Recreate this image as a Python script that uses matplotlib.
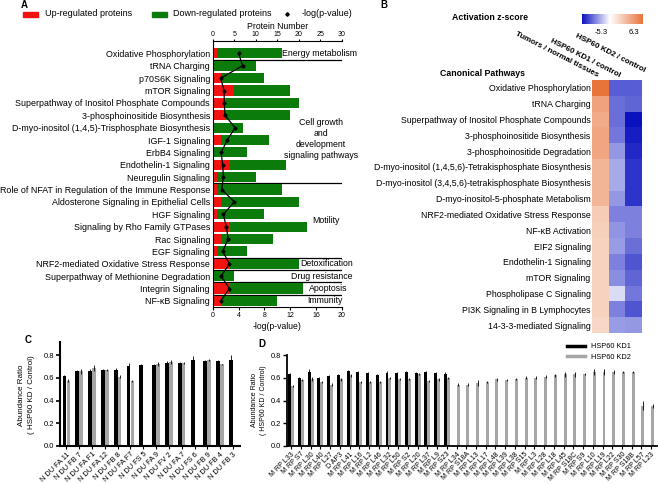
import matplotlib
matplotlib.use('Agg')
import matplotlib.pyplot as plt
import numpy as np
from matplotlib.colors import LinearSegmentedColormap, Normalize
from matplotlib.patches import Rectangle
from matplotlib.lines import Line2D

plt.rcParams['font.family'] = ['Liberation Sans', 'DejaVu Sans']
plt.rcParams['axes.linewidth'] = 0.8

W, H = 658, 484

# ---------------- Panel A data ----------------
pathways_a = [
    "Oxidative Phosphorylation", "tRNA Charging", "p70S6K Signaling", "mTOR Signaling",
    "Superpathway of Inositol Phosphate Compounds", "3-phosphoinositide Biosynthesis",
    "D-myo-inositol (1,4,5)-Trisphosphate Biosynthesis", "IGF-1 Signaling", "ErbB4 Signaling",
    "Endothelin-1 Signaling", "Neuregulin Signaling",
    "Role of NFAT in Regulation of the Immune Response", "Aldosterone Signaling in Epithelial Cells",
    "HGF Signaling", "Signaling by Rho Family GTPases", "Rac Signaling", "EGF Signaling",
    "NRF2-mediated Oxidative Stress Response", "Superpathway of Methionine Degradation",
    "Integrin Signaling", "NF-κB Signaling",
]
up_a = [1, 0, 2, 5, 3, 3, 0, 2, 0, 4, 1, 1, 2, 1, 4, 2, 1, 4, 0, 4, 2]
total_a = [16, 10, 12, 18, 20, 18, 7, 13, 8, 17, 10, 16, 20, 12, 22, 14, 8, 20, 5, 21, 15]
logp_a = [4.0, 4.65, 1.24, 1.76, 1.8, 1.9, 3.46, 2.27, 1.3, 1.55, 1.65, 1.4, 3.36, 1.65,
          2.1, 2.4, 1.55, 2.6, 1.3, 2.6, 1.24]
separators_a = [0.5, 10.5, 16.5, 17.5, 18.5, 19.5]
groups_a = [
    ("Energy metabolism", 16.1, 0, 'left'),
    ("Cell growth\nand\ndevelopment\nsignaling pathways", 25.1, 6.9, 'center'),
    ("Motility", 26.3, 13.5, 'center'),
    ("Detoxification", 20.3, 17, 'left'),
    ("Drug resistance", 18.2, 18, 'left'),
    ("Apoptosis", 22.4, 19, 'left'),
    ("Immunity", 21.9, 20, 'left'),
]

# ---------------- Panel B data ----------------
pathways_b = [
    "Oxidative Phosphorylation", "tRNA Charging", "Superpathway of Inositol Phosphate Compounds",
    "3-phosphoinositide Biosynthesis", "3-phosphoinositide Degradation",
    "D-myo-inositol (1,4,5,6)-Tetrakisphosphate Biosynthesis",
    "D-myo-inositol (3,4,5,6)-tetrakisphosphate Biosynthesis",
    "D-myo-inositol-5-phosphate Metabolism", "NRF2-mediated Oxidative Stress Response",
    "NF-κB Activation", "EIF2 Signaling", "Endothelin-1 Signaling", "mTOR Signaling",
    "Phospholipase C Signaling", "PI3K Signaling in B Lymphocytes", "14-3-3-mediated Signaling",
]
conditions_b = ["Tumors / normal tissues", "HSP60 KD1 / control", "HSP60 KD2 / control"]
z_tumor = [6.3, 4.2, 3.8, 4.0, 4.0, 3.3, 3.3, 3.3, 2.3, 2.1, 2.0, 2.0, 2.0, 2.0, 2.0, 1.8]
z_kd1 = [-3.6, -3.2, -3.2, -3.0, -2.3, -1.9, -1.9, -2.3, -2.8, -2.4, -2.2, -2.8, -2.5, -0.8, -2.8, -2.2]
z_kd2 = [-3.6, -3.4, -5.3, -5.0, -4.8, -4.5, -4.5, -4.5, -2.8, -2.8, -3.2, -3.8, -3.4, -3.0, -3.8, -2.3]
z_min, z_max = -5.3, 6.3

# ---------------- Panel C data ----------------
labels_c = ["N DU FA 11", "N DU FB 7", "N DU FA F1", "N DU FA 12", "N DU FB 8", "N DU FA F7",
            "N DU FS 5", "N DU FA 9", "N DU FV 2", "N DU FA 7", "N DU FS 6", "N DU FB 9",
            "N DU FB 4", "N DU FB 3"]
kd1_c = [0.614, 0.657, 0.663, 0.666, 0.666, 0.70, 0.709, 0.71, 0.734, 0.734, 0.757, 0.75, 0.75, 0.757]
kd1_c_err = [0.01, 0.01, 0.01, 0.01, 0.02, 0.03, 0.01, 0.01, 0.01, 0.005, 0.03, 0.01, 0.01, 0.04]
kd2_c = [0.575, 0.657, 0.686, 0.67, 0.61, 0.57, np.nan, 0.72, 0.74, 0.73, np.nan, 0.757, 0.72, np.nan]
kd2_c_err = [0.01, 0.02, 0.03, 0.01, 0.015, 0.01, np.nan, 0.02, 0.015, 0.005, np.nan, 0.01, 0.005, np.nan]

# ---------------- Panel D data ----------------
labels_d = ["M RP L33", "M RP S7", "M RP L30", "M RP L40", "M RP L27", "D AP3", "M RP L41",
            "M RP L16", "M RP L2", "M RP L46", "M RP L32", "M RP L50", "M RP S2", "M RP L20",
            "M RP L37", "M RP L9", "M RP S23", "M RP L34", "M RP S18A", "M RP L13", "M RP L17",
            "M RP L48", "M RP L39", "M RP L38", "M RP S15", "M RP L3", "M RP L28", "M RP L18",
            "M RP L45", "M RP S18C", "M RP S9", "M RP L10", "M RP L19", "M RP L22", "M RP S30",
            "M RP S18B", "M RP L57", "M RP L23"]
kd1_d = [0.63, 0.60, 0.65, 0.60, 0.615, 0.62, 0.66, 0.65, 0.64, 0.625, 0.645, 0.64, 0.65,
         0.64, 0.65, 0.64, 0.63] + [np.nan] * 21
kd1_d_err = [0.01, 0.01, 0.03, 0.01, 0.01, 0.01, 0.01, 0.01, 0.01, 0.01, 0.01, 0.01, 0.01,
             0.01, 0.01, 0.01, 0.02] + [np.nan] * 21
kd2_d = [0.526, 0.58, 0.59, 0.56, 0.54, 0.585, 0.62, 0.56, 0.56, 0.565, 0.595, 0.59, 0.59,
         0.635, 0.57, 0.585, 0.60, 0.54, 0.54, 0.555, 0.56, 0.585, 0.58, 0.59, 0.60, 0.60,
         0.61, 0.62, 0.63, 0.63, 0.63, 0.65, 0.65, 0.65, 0.65, 0.65, 0.355, 0.35]
kd2_d_err = [0.01, 0.01, 0.02, 0.01, 0.01, 0.01, 0.015, 0.01, 0.01, 0.01, 0.01, 0.01, 0.01,
             0.01, 0.01, 0.01, 0.01, 0.015, 0.01, 0.025, 0.01, 0.015, 0.01, 0.01, 0.015, 0.015,
             0.01, 0.015, 0.02, 0.02, 0.01, 0.025, 0.025, 0.02, 0.01, 0.01, 0.04, 0.02]

RED = '#f21212'
GREEN = '#0b7b0b'


def fx(px):
    return px / W


def fy(py):
    return 1 - py / H


fig = plt.figure(figsize=(W / 100, H / 100), dpi=100)

# ======================= Panel A =======================
axA = fig.add_axes([fx(212.7), fy(306.7), fx(129), 265.7 / H])
axA2 = axA.twiny()
rows = np.arange(len(pathways_a))
down_a = np.array(total_a) - np.array(up_a)
for s in separators_a:
    axA.axhline(s, color='black', lw=0.9, zorder=0.5)
axA.barh(rows, up_a, height=0.82, color=RED, zorder=2)
axA.barh(rows, down_a, left=up_a, height=0.82, color=GREEN, zorder=2)
axA.set_xlim(0, 30)
axA.set_ylim(20.47, -1.0)
axA.set_yticks(rows)
axA.set_yticklabels(pathways_a, fontsize=6.4)
axA.tick_params(axis='y', length=0, pad=2)
axA.set_xticks(np.arange(0, 31, 5))
axA.tick_params(axis='x', labelsize=5, length=1.8, pad=0.6, width=0.8)
axA.spines['right'].set_visible(False)
axA.spines['bottom'].set_visible(False)
for txt, x, y, ha in groups_a:
    axA.text(x, y, txt, fontsize=6.3, ha=ha, va='center', clip_on=False,
             linespacing=1.3, zorder=3)

axA2.plot(logp_a, rows, color='black', lw=0.9, marker='D', ms=1.6, zorder=4)
axA2.set_xlim(0, 20)
axA2.set_ylim(20.47, -1.0)
axA2.xaxis.tick_bottom()
axA2.xaxis.set_label_position('bottom')
axA2.set_xticks(np.arange(0, 21, 4))
axA2.tick_params(axis='x', labelsize=5, length=2.5, pad=1.2, width=0.8)
axA2.set_xlabel("-log(p-value)", fontsize=6.2, labelpad=2)
for sp in ['top', 'right', 'left']:
    axA2.spines[sp].set_visible(False)
axA.xaxis.tick_top()
axA.xaxis.set_label_position('top')
axA.set_xlabel("Protein Number", fontsize=6.2, labelpad=1)

# Legend A (manual)
fig.patches.append(Rectangle((fx(23), fy(17)), fx(15), 5 / H, color=RED, transform=fig.transFigure))
fig.text(fx(45), fy(14), "Up-regulated proteins", fontsize=6.5, va='center')
fig.patches.append(Rectangle((fx(152), fy(17)), fx(15), 5 / H, color=GREEN, transform=fig.transFigure))
fig.text(fx(173), fy(14), "Down-regulated proteins", fontsize=6.5, va='center')
fig.lines.append(Line2D([fx(287)], [fy(14)], marker='D', ms=1.8, color='black', transform=fig.transFigure))
fig.text(fx(302), fy(14), "-log(p-value)", fontsize=6.5, va='center')
fig.text(fx(21), fy(5), "A", fontsize=7, fontweight='bold', va='center')

# ======================= Panel B =======================
cmap = LinearSegmentedColormap.from_list(
    'zs', [(0.0, '#0a12c0'), (-z_min / (z_max - z_min), '#ffffff'), (1.0, '#e8743a')])
norm = Normalize(vmin=z_min, vmax=z_max)
Z = np.column_stack([z_tumor, z_kd1, z_kd2])
axB = fig.add_axes([fx(592), fy(333), fx(50), 253 / H])
axB.imshow(Z, cmap=cmap, norm=norm, aspect='auto', interpolation='nearest')
axB.set_yticks(np.arange(len(pathways_b)))
axB.set_yticklabels(pathways_b, fontsize=6.3)
axB.tick_params(axis='y', length=0, pad=1)
axB.set_xticks([])
for sp in axB.spines.values():
    sp.set_visible(False)
header_ends = [(598, 76), (620, 76), (645, 71)]
for name, (hx, hy) in zip(conditions_b, header_ends):
    fig.text(fx(hx), fy(hy), name, fontsize=5.8, fontweight='bold', rotation=-27,
             ha='right', va='center', rotation_mode='anchor')
fig.text(fx(440), fy(74), "Canonical Pathways", fontsize=6.3, fontweight='bold', va='center')
fig.text(fx(490), fy(18), "Activation z-score", fontsize=6.3, fontweight='bold', va='center', ha='center')
fig.text(fx(380), fy(5), "B", fontsize=7, fontweight='bold', va='center')

cax = fig.add_axes([fx(582), fy(24), fx(61), 10 / H])
grad = np.linspace(z_min, z_max, 256).reshape(1, -1)
cax.imshow(grad, cmap=cmap, norm=norm, aspect='auto')
cax.set_axis_off()
fig.text(fx(601), fy(32), "-5.3", fontsize=5.5, ha='center', va='center')
fig.text(fx(634), fy(32), "6.3", fontsize=5.5, ha='center', va='center')

# ======================= Panel C =======================
axC = fig.add_axes([fx(60), fy(446), fx(180), 104.3 / H])
xc = np.arange(len(labels_c))
err_kw = dict(ecolor='black', elinewidth=0.6, capsize=0)
axC.bar(xc - 0.15, kd1_c, width=0.3, color='black', yerr=kd1_c_err, error_kw=err_kw, zorder=3)
axC.bar(xc + 0.15, kd2_c, width=0.28, color='#a6a6a6', yerr=kd2_c_err, error_kw=err_kw, zorder=2)
axC.set_xlim(-0.5, 13.55)
axC.set_ylim(0, 0.917)
axC.set_yticks([0.0, 0.2, 0.4, 0.6, 0.8])
axC.set_yticklabels(["0.0", "0.2", "0.4", "0.6", "0.8"])
axC.set_xticks(xc)
axC.set_xticklabels(labels_c, rotation=45, ha='right', rotation_mode='anchor', fontsize=5.3)
axC.tick_params(axis='y', labelsize=5.5, length=3, width=1.2, pad=1.5)
axC.tick_params(axis='x', length=2, width=0.8, pad=1.5)
for sp in ['top', 'right']:
    axC.spines[sp].set_visible(False)
for sp in ['left', 'bottom']:
    axC.spines[sp].set_linewidth(1.5)
fig.text(fx(26.5), fy(395), "Abundance Ratio\n( HSP60 KD / Control)", fontsize=5.8,
         rotation=90, ha='center', va='center', linespacing=1.5)
fig.text(fx(25), fy(340), "C", fontsize=7, fontweight='bold', va='center')

# ======================= Panel D =======================
axD = fig.add_axes([fx(287.3), fy(446), fx(369.7), 91 / H])
xd = np.arange(len(labels_d))
axD.bar(xd - 0.15, kd1_d, width=0.3, color='black', yerr=kd1_d_err, error_kw=err_kw, zorder=3)
axD.bar(xd + 0.15, kd2_d, width=0.3, color='#a6a6a6', yerr=kd2_d_err, error_kw=err_kw, zorder=2)
axD.set_xlim(-0.4, 37.6)
axD.set_ylim(0, 0.8)
axD.set_yticks([0.0, 0.2, 0.4, 0.6, 0.8])
axD.set_yticklabels(["0.0", "0.2", "0.4", "0.6", "0.8"])
axD.set_xticks(xd)
axD.set_xticklabels(labels_d, rotation=45, ha='right', rotation_mode='anchor', fontsize=5)
axD.tick_params(axis='y', labelsize=5.3, length=3, width=1.0, pad=1.5)
axD.tick_params(axis='x', length=2, width=0.8, pad=1.5)
for sp in ['top', 'right']:
    axD.spines[sp].set_visible(False)
for sp in ['left', 'bottom']:
    axD.spines[sp].set_linewidth(1.3)
fig.text(fx(259), fy(400), "Abundance Ratio\n( HSP60 KD / Control)", fontsize=5,
         rotation=90, ha='center', va='center', linespacing=1.3)
fig.text(fx(258), fy(344), "D", fontsize=7, fontweight='bold', va='center')
handles = [Line2D([], [], color='black', lw=2.5), Line2D([], [], color='#a6a6a6', lw=2.5)]
fig.legend(handles, ["HSP60 KD1", "HSP60 KD2"], loc='upper left',
           bbox_to_anchor=(fx(567), fy(343)), frameon=False, fontsize=5.3,
           handlelength=2.4, handletextpad=0.8, labelspacing=0.5, borderpad=0, borderaxespad=0)

fig.savefig('out.png', dpi=100)
